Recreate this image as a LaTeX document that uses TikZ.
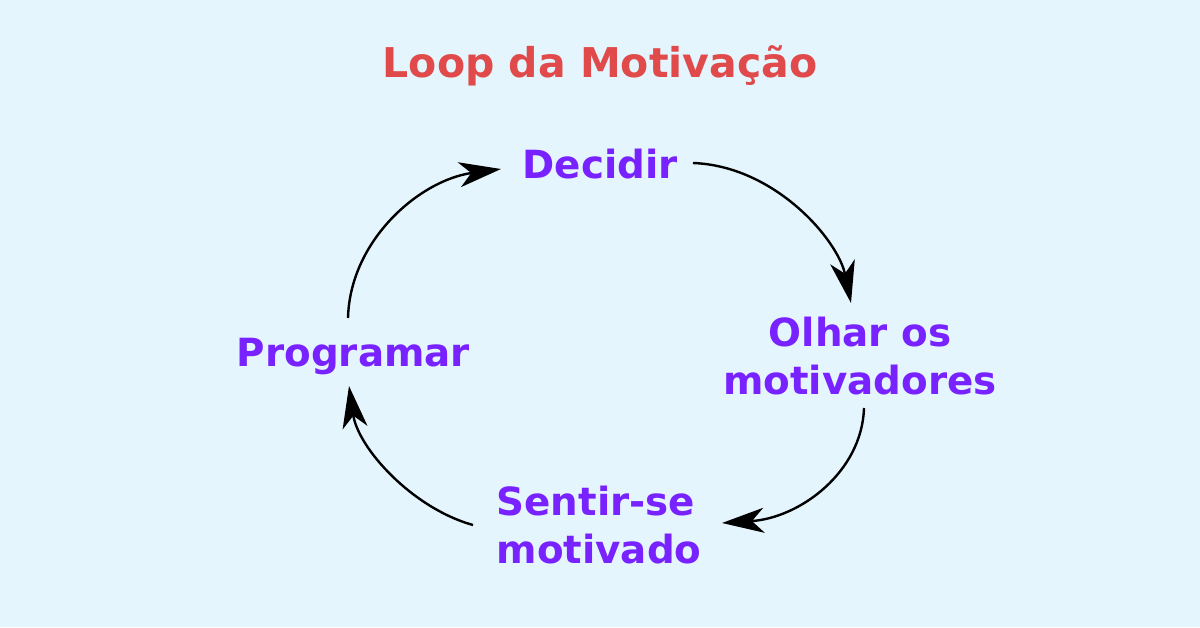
\documentclass[tikz,border=0pt]{standalone}
\usepackage{fontspec}
\setmainfont{DejaVu Sans}
\usetikzlibrary{arrows.meta}
\definecolor{bgc}{HTML}{E5F5FD}
\definecolor{titlec}{HTML}{E04A4A}
\definecolor{stepc}{HTML}{7722FF}
\tikzset{
  label/.style={text=stepc, font=\bfseries\fontsize{38.8}{48}\selectfont, align=center, inner sep=0pt, anchor=base},
  heading/.style={text=titlec, font=\bfseries\fontsize{41}{48}\selectfont, inner sep=0pt, anchor=base},
  flow/.style={line width=2.4pt, -{Stealth[length=42pt, width=25pt, inset=12pt]}}
}
\begin{document}
\begin{tikzpicture}[x=1pt, y=-1pt]
\fill[bgc] (0,0) rectangle (1200,627);
\useasboundingbox (0,0) rectangle (1200,627);
\node[heading] (title) at (600,77) {Loop da Motivação};
\node[label] (dec) at (600,178) {Decidir};
\node[label] (olh) at (860,394) {Olhar os\\motivadores};
\node[label, align=left] (sen) at (599,563) {Sentir-se\\motivado};
\node[label] (pro) at (353.5,366) {Programar};
\coordinate (a1s) at (693,163);
\coordinate (a1e) at (851,303);
\coordinate (a2s) at (864,408);
\coordinate (a2e) at (722,523);
\coordinate (a3s) at (473,525);
\coordinate (a3e) at (349,386);
\coordinate (a4s) at (348,318);
\coordinate (a4e) at (501,169);
\draw[flow] (a1s) .. controls (775,166) and (838,240) .. (a1e);
\draw[flow] (a2s) .. controls (862,472) and (800,518) .. (a2e);
\draw[flow] (a3s) .. controls (412,508) and (358,448) .. (a3e);
\draw[flow] (a4s) .. controls (350,240) and (420,180) .. (a4e);
\end{tikzpicture}
\end{document}
